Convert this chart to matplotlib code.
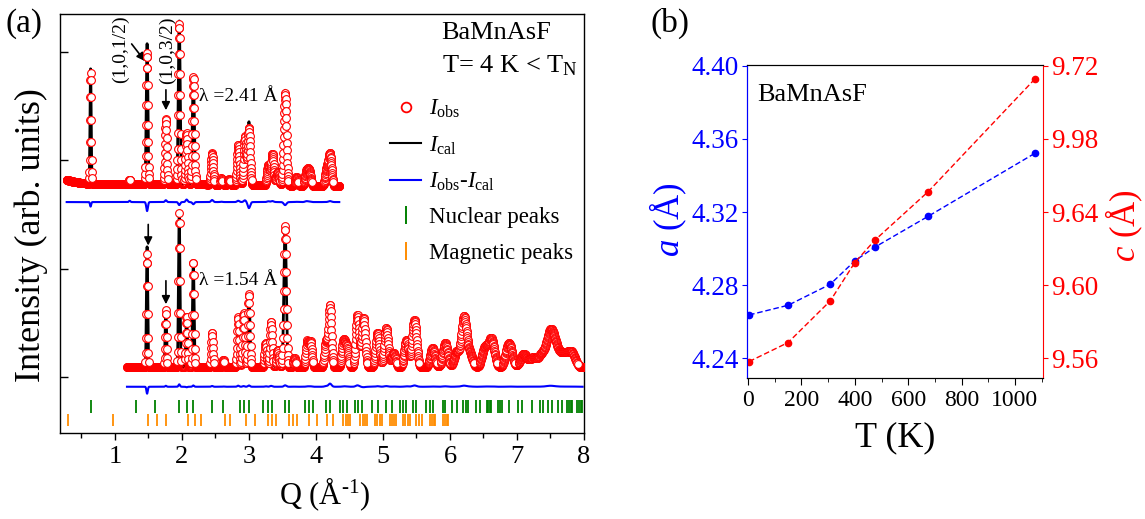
import numpy as np
import matplotlib
matplotlib.use("Agg")
import matplotlib.pyplot as plt
from matplotlib.lines import Line2D
from matplotlib.ticker import MultipleLocator, FixedLocator

plt.rcParams['font.family'] = ['Liberation Serif', 'DejaVu Serif']
plt.rcParams['mathtext.fontset'] = 'custom'
plt.rcParams['mathtext.rm'] = 'Liberation Serif'
plt.rcParams['mathtext.it'] = 'Liberation Serif:italic'

# ---- (a) neutron patterns, lambda = 2.41 A (upper) and 1.54 A (lower)
up_q_range = (0.28, 4.35)
up_bg_q = [0.28, 0.40, 0.60, 2.00, 4.35]
up_bg = [2320, 2300, 2285, 2280, 2262]
up_peak_q = [0.637, 1.22, 1.48, 1.76, 1.96, 2.07, 2.17, 2.45, 2.59, 2.70, 2.84,
             2.94, 3.00, 3.29, 3.35, 3.43, 3.54, 3.71, 3.86, 3.90, 4.16, 4.21]
up_obs = [1018, 40, 1212, 602, 1479, 473, 990, 289, 58, 50, 372,
          446, 528, 187, 289, 123, 852, 77, 123, 123, 150, 289]
up_cal = [1060, 28, 1295, 585, 1507, 450, 1010, 270, 55, 50, 360,
          430, 584, 180, 280, 123, 880, 75, 115, 120, 150, 280]
up_diff_offset = 2115

lo_q_range = (1.18, 7.98)
lo_bg_q = [1.18, 4.00, 7.98]
lo_bg = [592, 590, 588]
lo_peak_q = [1.48, 1.76, 1.96, 2.07, 2.17, 2.45, 2.62, 2.84, 2.92, 3.00, 3.25,
             3.33, 3.43, 3.54, 3.68, 3.87, 3.92, 4.15, 4.21, 4.41, 4.46, 4.62,
             4.71, 4.92, 5.05, 5.16, 5.35, 5.47, 5.74, 5.93, 6.10, 6.21, 6.30,
             6.52, 6.62, 6.88, 7.10, 7.24, 7.37, 7.49, 7.57, 7.69, 7.81]
lo_obs = [1046, 529, 1422, 465, 972, 317, 67, 465, 501, 677, 224,
          418, 160, 1303, 86, 234, 234, 234, 569, 234, 178, 483,
          456, 317, 364, 132, 252, 437, 178, 224, 141, 465, 114,
          178, 261, 224, 123, 86, 114, 280, 169, 114, 141]
lo_cal = [1110, 520, 1400, 470, 960, 310, 65, 455, 495, 665, 220,
          410, 160, 1290, 85, 230, 230, 228, 540, 230, 175, 470,
          460, 312, 358, 130, 248, 425, 176, 220, 140, 455, 112,
          176, 258, 222, 121, 85, 113, 272, 166, 113, 139]
lo_diff_offset = 410

nuc_q = [0.637, 1.309, 1.60, 1.96, 2.07, 2.17, 2.45, 2.62, 2.86, 2.93, 3.00,
         3.21, 3.28, 3.35, 3.54, 3.60, 3.84, 3.89, 3.95, 4.15, 4.21, 4.36,
         4.41, 4.46, 4.58, 4.63, 4.69, 4.83, 4.92, 5.04, 5.13, 5.25, 5.30,
         5.35, 5.45, 5.50, 5.65, 5.70, 5.74, 5.89, 5.93, 6.03, 6.10, 6.20,
         6.24, 6.27, 6.39, 6.45, 6.55, 6.57, 6.60, 6.62, 6.72, 6.75, 6.77,
         6.88, 7.02, 7.07, 7.22, 7.34, 7.39, 7.47, 7.52, 7.62, 7.67, 7.74,
         7.77, 7.80, 7.82, 7.89, 7.92, 7.95, 7.97]
mag_q = [0.30, 0.975, 1.50, 1.63, 1.76, 2.09, 2.19, 2.29, 2.64, 2.72, 2.955,
         3.09, 3.29, 3.34, 3.41, 3.60, 3.66, 3.72, 3.89, 4.01, 4.16, 4.26,
         4.41, 4.45, 4.48, 4.51, 4.66, 4.70, 4.73, 4.76, 4.88, 4.91, 4.95,
         4.98, 5.10, 5.13, 5.17, 5.20, 5.30, 5.33, 5.37, 5.40, 5.50, 5.54,
         5.58, 5.70, 5.73, 5.76, 5.78, 5.89, 5.92, 5.95, 5.97]

# ---- (b) lattice parameters vs temperature
temp = [4, 150, 308, 400, 475, 675, 1075]
a_lat = [4.2637, 4.2690, 4.2805, 4.2933, 4.3008, 4.3177, 4.3522]
c_lat = [9.5582, 9.5686, 9.5914, 9.6124, 9.6246, 9.6512, 9.7129]
c_ticks = [9.56, 9.60, 9.64, 9.68, 9.72]
c_tick_labels = ['9.56', '9.60', '9.64', '9.98', '9.72']


def profile(q, bg_q, bg, pk_q, pk_h, width):
    y = np.interp(q, bg_q, bg)
    for p, h in zip(pk_q, pk_h):
        s = width(p)
        y = y + h * np.exp(-0.5 * ((q - p) / s) ** 2)
    return y


def width_up(p):
    return 0.006 + 0.004 * p


def width_lo(p):
    return 0.008 + 0.0008 * p * p


def draw_pattern(ax, q, obs, cal, bg, offset):
    ax.plot(q, cal, color='black', lw=2.0, zorder=2)
    base = (obs - bg) < 35
    ax.plot(q[base], obs[base], ls='none', marker='o', ms=5.6, mfc='none',
            mec='red', mew=0.8, zorder=3)
    ax.plot(q[~base], obs[~base], ls='none', marker='o', ms=5.6, mfc='white',
            mec='red', mew=0.8, zorder=4)
    ax.plot(q, obs - cal + offset, color='blue', lw=1.5, zorder=2)


fig = plt.figure(figsize=(11.45, 5.19), dpi=100)

ax = fig.add_axes([0.0528, 0.1657, 0.4572, 0.8073])
q1 = np.arange(up_q_range[0], up_q_range[1], 0.003)
bg1 = np.interp(q1, up_bg_q, up_bg)
obs1 = profile(q1, up_bg_q, up_bg, up_peak_q, up_obs, width_up)
cal1 = profile(q1, up_bg_q, up_bg, up_peak_q, up_cal, width_up)
draw_pattern(ax, q1, obs1, cal1, bg1, up_diff_offset)

q2 = np.arange(lo_q_range[0], lo_q_range[1], 0.004)
bg2 = np.interp(q2, lo_bg_q, lo_bg)
obs2 = profile(q2, lo_bg_q, lo_bg, lo_peak_q, lo_obs, width_lo)
cal2 = profile(q2, lo_bg_q, lo_bg, lo_peak_q, lo_cal, width_lo)
draw_pattern(ax, q2, obs2, cal2, bg2, lo_diff_offset)

ax.vlines(nuc_q, 170, 287, color='green', lw=1.3)
ax.vlines(mag_q, 47, 158, color='darkorange', lw=1.3)

ax.set_xlim(0.187, 8.0)
ax.set_ylim(-17, 3851)
ax.xaxis.set_minor_locator(MultipleLocator(0.5))
ax.set_xticks([1, 2, 3, 4, 5, 6, 7, 8])
ax.set_yticks([500, 1500, 2500, 3500])
ax.set_yticklabels([])
ax.tick_params(axis='y', direction='in', length=5.5, width=1.0)
ax.tick_params(axis='x', which='major', direction='out', length=5, width=1.0,
               labelsize=19, pad=4)
ax.tick_params(axis='x', which='minor', direction='out', length=3.5, width=1.0)
for s in ax.spines.values():
    s.set_linewidth(1.0)

arrow = dict(arrowstyle='-|>', color='black', lw=1.2, mutation_scale=12)
ax.annotate('', xy=(1.473, 3396), xytext=(1.224, 3595), arrowprops=arrow)
ax.annotate('', xy=(1.761, 2937), xytext=(1.761, 3177), arrowprops=arrow)
ax.annotate('', xy=(1.497, 1688), xytext=(1.497, 1934), arrowprops=arrow)
ax.annotate('', xy=(1.761, 1146), xytext=(1.761, 1414), arrowprops=arrow)
ax.text(1.09, 3523, '(1,0,1/2)', rotation=90, ha='center', va='center', fontsize=14)
ax.text(1.784, 3514, '(1,0,3/2)', rotation=90, ha='center', va='center', fontsize=14)
ax.text(2.254, 3085, 'λ =2.41 Å', ha='left', va='center', fontsize=14)
ax.text(2.254, 1395, 'λ =1.54 Å', ha='left', va='center', fontsize=14)
ax.text(0.728, 0.955, 'BaMnAsF', transform=ax.transAxes, ha='left', va='center', fontsize=19)
ax.text(0.728, 0.876, r'T= 4 K < T$_{\rm N}$', transform=ax.transAxes, ha='left',
        va='center', fontsize=19)

handles = [Line2D([], [], ls='none', marker='o', ms=7, mfc='white', mec='red', mew=1.3),
           Line2D([], [], color='black', lw=1.5),
           Line2D([], [], color='blue', lw=1.5),
           Line2D([], [], ls='none', marker='|', ms=13, mew=1.4, color='green'),
           Line2D([], [], ls='none', marker='|', ms=13, mew=1.4, color='darkorange')]
labels = [r'$I_{\rm obs}$', r'$I_{\rm cal}$', r'$I_{\rm obs}$-$I_{\rm cal}$',
          'Nuclear peaks', 'Magnetic peaks']
ax.legend(handles, labels, loc='upper left', bbox_to_anchor=(0.63, 0.80),
          frameon=False, fontsize=16.5, handlelength=1.35, handletextpad=0.35,
          labelspacing=0.62, borderpad=0, borderaxespad=0)

fig.text(0.027, 0.547, 'Intensity (arb. units)', rotation=90, ha='center',
         va='center', fontsize=26)
fig.text(0.284, 0.048, 'Q (Å$^{\\rm \u2010 1}$)', ha='center', va='center', fontsize=22)
fig.text(0.021, 0.955, '(a)', ha='center', va='center', fontsize=24)
fig.text(0.585, 0.955, '(b)', ha='center', va='center', fontsize=24)

# ---- panel (b)
bx = fig.add_axes([0.6524, 0.2717, 0.2585, 0.6031])
bx.plot(temp, a_lat, color='blue', ls=(0, (4, 2)), lw=1.0, marker='o', ms=4.5)
bx.set_xlim(-4, 1105)
bx.set_ylim(4.2292, 4.4005)
bx.set_yticks([4.24, 4.28, 4.32, 4.36, 4.40])
bx.set_yticklabels(['4.24', '4.28', '4.32', '4.36', '4.40'])
bx.xaxis.set_major_locator(MultipleLocator(200))
bx.xaxis.set_minor_locator(MultipleLocator(100))
bx.tick_params(axis='x', which='major', direction='out', length=5, labelsize=17)
bx.tick_params(axis='x', which='minor', direction='out', length=3)
bx.tick_params(axis='y', direction='out', length=3.6, colors='blue', labelsize=19.5,
               pad=2)
bx.spines['left'].set_color('blue')
bx.spines['right'].set_visible(False)
bx.text(0.035, 0.905, 'BaMnAsF', transform=bx.transAxes, ha='left', va='center', fontsize=19)

bxr = bx.twinx()
bxr.plot(temp, c_lat, color='red', ls=(0, (4, 2)), lw=1.0, marker='o', ms=4.5)
bxr.set_ylim(9.5492, 9.7205)
bxr.yaxis.set_major_locator(FixedLocator(c_ticks))
bxr.set_yticklabels(c_tick_labels)
bxr.tick_params(axis='y', direction='out', length=3.6, colors='red', labelsize=19.5,
                pad=2)
bxr.spines['right'].set_color('red')
bxr.spines['left'].set_color('blue')

fig.text(0.584, 0.576, r'$a$ (Å)', rotation=90, ha='center', va='center',
         fontsize=25, color='blue')
fig.text(0.982, 0.566, r'$c$ (Å)', rotation=90, ha='center', va='center',
         fontsize=25, color='red')
fig.text(0.782, 0.156, 'T (K)', ha='center', va='center', fontsize=26)

fig.savefig('out.png', dpi=100)
